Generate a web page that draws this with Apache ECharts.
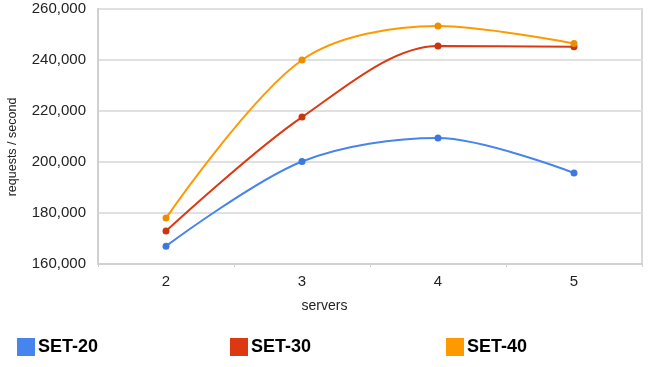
<!DOCTYPE html>
<html><head><meta charset="utf-8">
<script src="https://cdn.jsdelivr.net/npm/echarts@6/dist/echarts.min.js"></script>
<style>html,body{margin:0;padding:0;background:#fff}#c{width:649px;height:367px}</style>
</head><body><div id="c"></div>
<script>
var categories = ['2', '3', '4', '5'];
var set20 = [167000, 200200, 209400, 195700];
var set30 = [172900, 217600, 245500, 245200];
var set40 = [178000, 240000, 253300, 246500];
var seriesNames = ['SET-20', 'SET-30', 'SET-40'];
var colors = ['#4684ee', '#dc3912', '#ff9900'];
var markerColors = ['#3d78dc', '#c8350f', '#ec8e00'];
var xName = 'servers';
var yName = 'requests / second';

var chart = echarts.init(document.getElementById('c'));
var font = 'Liberation Sans, Arial, sans-serif';
function mkSeries(name, data, color, mcolor) {
  return {
    name: name, type: 'line', data: data, smooth: 0.32,
    symbol: 'circle', symbolSize: 7,
    lineStyle: {width: 2, color: color},
    itemStyle: {color: mcolor},
    emphasis: {disabled: true}
  };
}
function mkLegend(name, left, color) {
  return {
    data: [{name: name, itemStyle: {color: color}}], left: left, top: 338, orient: 'horizontal',
    icon: 'rect', itemWidth: 18, itemHeight: 18, itemGap: 4,
    textStyle: {fontFamily: font, fontSize: 18, fontWeight: 'bold', color: '#000', padding: [0,0,0,-2]},
    padding: 0
  };
}
chart.setOption({
  animation: false,
  color: colors,
  textStyle: {fontFamily: font},
  title: {text: xName, left: 'center', top: 299, padding: 0,
    textStyle: {fontFamily: font, fontSize: 14, fontWeight: 'normal', color: '#222'}},
  graphic: [{type: 'text', x: 13, y: 147, rotation: Math.PI / 2,
    style: {text: yName, font: '12.5px ' + font, fill: '#222', textAlign: 'center', textVerticalAlign: 'middle'}}],
  grid: {left: 98, right: 7, top: 9, bottom: 103, show: true, borderColor: '#d9d9d9', borderWidth: 2, outerBoundsMode: 'none', containLabel: false},
  legend: [mkLegend(seriesNames[0], 17, colors[0]), mkLegend(seriesNames[1], 230, colors[1]), mkLegend(seriesNames[2], 446, colors[2])],
  xAxis: {
    type: 'category', data: categories, boundaryGap: true,
    axisLine: {lineStyle: {color: '#d0d0d0', width: 2}},
    axisTick: {show: true, length: 3, lineStyle: {color: '#d0d0d0'}},
    axisLabel: {fontFamily: font, fontSize: 15, color: '#222', margin: 10},
    splitLine: {show: false}
  },
  yAxis: {
    type: 'value', min: 160000, max: 260000, interval: 20000,
    axisLine: {show: true, lineStyle: {color: '#d0d0d0', width: 2}},
    axisTick: {show: false},
    axisLabel: {fontFamily: font, fontSize: 15, color: '#222', margin: 12,
      formatter: function (v) { return v.toLocaleString('en-US'); }},
    splitLine: {lineStyle: {color: '#e0e0e0', width: 2}}
  },
  series: [mkSeries(seriesNames[0], set20, colors[0], markerColors[0]), mkSeries(seriesNames[1], set30, colors[1], markerColors[1]), mkSeries(seriesNames[2], set40, colors[2], markerColors[2])]
});
</script></body></html>
